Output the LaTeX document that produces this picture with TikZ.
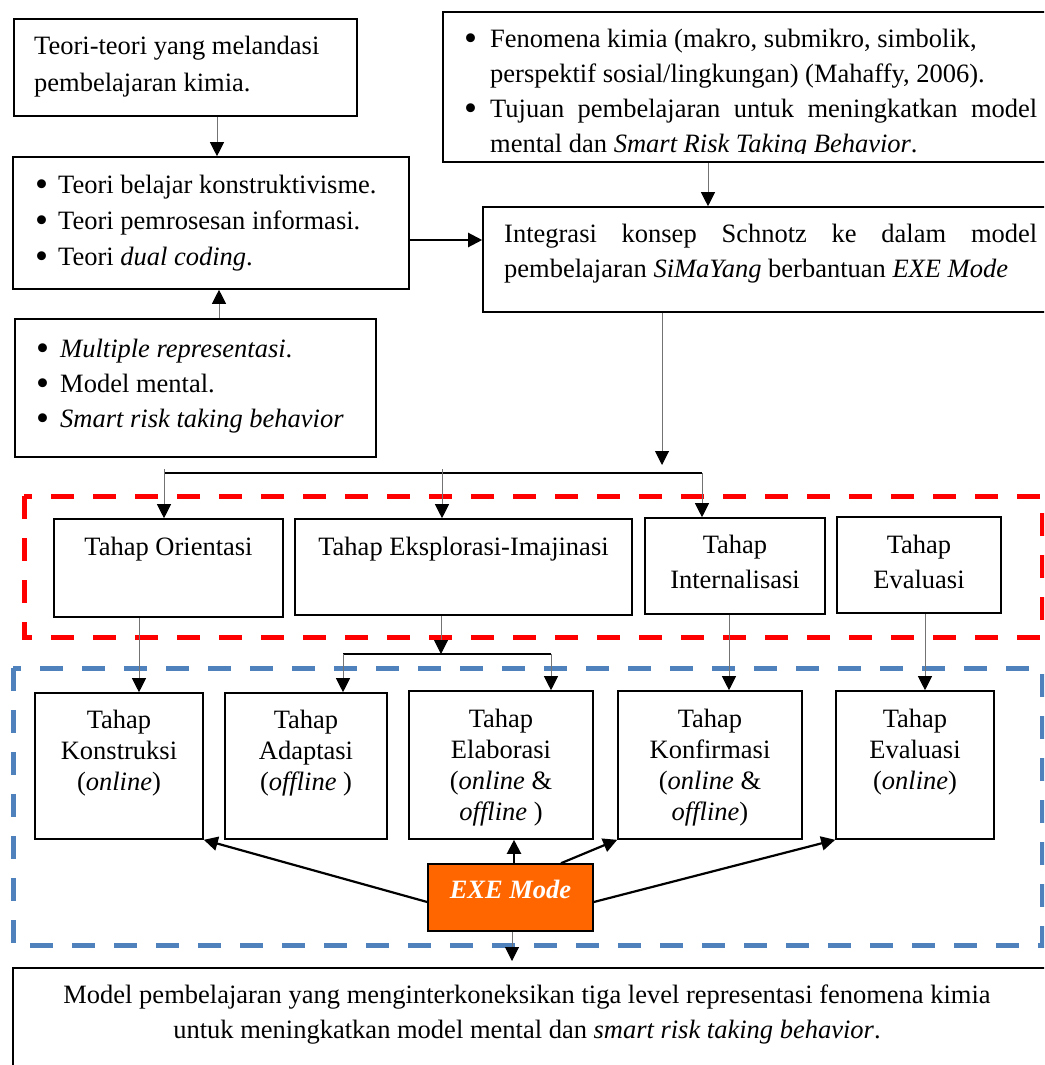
\documentclass[tikz,border=0pt]{standalone}
\usepackage{fontspec}
\usepackage{graphicx}
\setmainfont{Liberation Serif}
\usetikzlibrary{arrows.meta}
\definecolor{dashred}{HTML}{FF0000}
\definecolor{dashblue}{HTML}{4F81BD}
\definecolor{exeorange}{HTML}{FF6600}
\newcommand\txtsize[1]{\fontsize{26.5}{#1}\selectfont}
\newcommand\firststrut{\rule{0pt}{24pt}}
\newcommand\bul[1]{\makebox[#1pt][l]{\raisebox{-0.13em}{\scalebox{1.4}{\textbullet}}}}
\begin{document}
\begin{tikzpicture}[x=1pt,y=-1pt,
  box/.style={draw=black,line width=1.6pt,inner sep=0pt,rectangle},
  txt/.style={inner sep=0pt,anchor=north west,align=left},
  ctxt/.style={inner sep=0pt,anchor=north,align=center},
  tip/.style={-{Triangle[length=14pt,width=14pt,color=black]}},
  thinarrow/.style={tip,draw=black!55,line width=1pt},
  thickarrow/.style={tip,draw=black,line width=2.2pt},
  thickline/.style={draw=black,line width=2.6pt},
  frame/.style={line width=5pt,dash pattern=on 23pt off 19pt}]
\useasboundingbox (0,0) rectangle (1044,1065);
\clip (0,0) rectangle (1044,1065);

% ---- upper boxes
\node[box,minimum width=343pt,minimum height=97pt]  (b1)     at (185.5,67.5) {};
\node[box,minimum width=396pt,minimum height=132pt] (b2)     at (211,223) {};
\node[box,minimum width=361pt,minimum height=138pt] (b3)     at (195.5,388) {};
\node[box,minimum width=617pt,minimum height=150pt] (fen)    at (751.5,87) {};
\node[box,minimum width=577pt,minimum height=105pt] (integ)  at (771.5,259.5) {};

\node[txt,font=\txtsize{37}] (t1) at (34,30)
  {\firststrut Teori-teori yang melandasi\\pembelajaran kimia.};
\node[txt,font=\txtsize{36}] (t2) at (35,169)
  {\firststrut\bul{23}Teori belajar konstruktivisme.\\\bul{23}Teori pemrosesan informasi.\\\bul{23}Teori \textit{dual coding}.};
\node[txt,font=\txtsize{35}] (t3) at (36,333)
  {\firststrut\bul{24}\textit{Multiple representasi}.\\\bul{24}Model mental.\\\bul{24}\textit{Smart risk taking behavior}};
\begin{scope}
  \clip (443,0) rectangle (1044,153);
  \node[txt,font=\txtsize{35}] (tfen) at (464,23)
    {\firststrut\bul{26}Fenomena kimia (makro, submikro, simbolik,\\
     \hspace*{26pt}perspektif sosial/lingkungan) (Mahaffy, 2006).\\
     \bul{26}\makebox[547pt][s]{Tujuan pembelajaran untuk meningkatkan model}\\
     \hspace*{26pt}mental dan \textit{Smart Risk Taking Behavior}.};
\end{scope}
\node[txt,font=\txtsize{35}] (tinteg) at (504,218)
  {\firststrut\makebox[533pt][s]{Integrasi konsep Schnotz ke dalam model}\\
   pembelajaran \textit{SiMaYang} berbantuan \textit{EXE Mode}};

% ---- dashed groups
\draw[frame,draw=dashred]  (24,496) rectangle (1042,637);
\draw[frame,draw=dashblue] (13,668) rectangle (1042,945);

% ---- stage boxes (upper row)
\node[box,minimum width=229pt,minimum height=98pt] (orient) at (168.5,568) {};
\node[box,minimum width=337pt,minimum height=96pt] (eksp)   at (463.5,567) {};
\node[box,minimum width=180pt,minimum height=96pt] (intern) at (735,566) {};
\node[box,minimum width=164pt,minimum height=96pt] (eval1)  at (919,565) {};

\node[ctxt,font=\txtsize{35}] (torient) at (168.5,531) {\firststrut Tahap Orientasi};
\node[ctxt,font=\txtsize{35}] (teksp)   at (463.5,531) {\firststrut Tahap Eksplorasi-Imajinasi};
\node[ctxt,font=\txtsize{35}] (tintern) at (735,529)   {\firststrut Tahap\\Internalisasi};
\node[ctxt,font=\txtsize{35}] (teval1)  at (919,529)   {\firststrut Tahap\\Evaluasi};

% ---- stage boxes (lower row)
\node[box,minimum width=168pt,minimum height=146pt] (konst) at (119,766) {};
\node[box,minimum width=162pt,minimum height=146pt] (adapt) at (306,766) {};
\node[box,minimum width=184pt,minimum height=148pt] (elab)  at (501,765) {};
\node[box,minimum width=184pt,minimum height=148pt] (konf)  at (710,765) {};
\node[box,minimum width=158pt,minimum height=148pt] (eval2) at (915,765) {};

\node[ctxt,font=\txtsize{31}] (tkonst) at (119,704) {\firststrut Tahap\\Konstruksi\\(\textit{online})};
\node[ctxt,font=\txtsize{31}] (tadapt) at (306,704) {\firststrut Tahap\\Adaptasi\\(\textit{offline} )};
\node[ctxt,font=\txtsize{31}] (telab)  at (501,703) {\firststrut Tahap\\Elaborasi\\(\textit{online} \&\\\textit{offline} )};
\node[ctxt,font=\txtsize{31}] (tkonf)  at (710,703) {\firststrut Tahap\\Konfirmasi\\(\textit{online} \&\\\textit{offline})};
\node[ctxt,font=\txtsize{31}] (teval2) at (915,703) {\firststrut Tahap\\Evaluasi\\(\textit{online})};

% ---- EXE Mode and outcome
\node[box,fill=exeorange,minimum width=165pt,minimum height=67pt] (exe) at (510.5,897.5) {};
\node[inner sep=0pt,anchor=base,text=white,font=\txtsize{31}] (texe) at (510.5,898) {\textbf{\textit{EXE Mode}}};
\node[box,minimum width=1047pt,minimum height=112pt] (final) at (536.5,1024) {};
\node[ctxt,font=\txtsize{35}] (tfinal) at (527,979)
  {\firststrut Model pembelajaran yang menginterkoneksikan tiga level representasi fenomena kimia\\
   untuk meningkatkan model mental dan \textit{smart risk taking behavior}.};

% ---- junction points
\coordinate (j1)  at (662,465);
\coordinate (h1l) at (164,473);
\coordinate (h1m) at (442,473);
\coordinate (h1r) at (702,473);
\coordinate (h2l) at (343,654);
\coordinate (h2m) at (441,654);
\coordinate (h2r) at (551,654);
\coordinate (j2)  at (512,961);

% ---- connectors
\draw[thinarrow]  (217,0 |- b1.south) -- (217,0 |- b2.north);
\draw[thinarrow]  (219,0 |- b3.north) -- (219,0 |- b2.south);
\draw[thickarrow] (b2.east |- 0,240) -- (integ.west |- 0,240);
\draw[thinarrow]  (708,0 |- fen.south) -- (708,0 |- integ.north);
\draw[thinarrow]  (662,0 |- integ.south) -- (j1);
\draw[thickline]  (h1l) -- (h1r);
\draw[thinarrow]  ([yshift=4pt]h1l) -- (h1l |- orient.north);
\draw[thinarrow]  ([yshift=4pt]h1m) -- (h1m |- eksp.north);
\draw[thinarrow]  (h1r) -- (h1r |- intern.north);

\draw[thinarrow]  (139,0 |- orient.south) -- (139,0 |- konst.north);
\draw[thinarrow]  (h2m |- eksp.south) -- (h2m);
\draw[thickline]  (h2l) -- (h2r);
\draw[thinarrow]  (h2l) -- (h2l |- adapt.north);
\draw[thinarrow]  (h2r) -- (h2r |- elab.north);
\draw[thinarrow]  (729,0 |- intern.south) -- (729,0 |- konf.north);
\draw[thinarrow]  (925,0 |- eval1.south) -- (925,0 |- eval2.north);

\draw[thickarrow] (exe.west |- 0,902) -- (konst.south east);
\draw[thickarrow] (514,0 |- exe.north) -- (514,0 |- elab.south);
\draw[thickarrow] (561,0 |- exe.north) -- (konf.south west);
\draw[thickarrow] (exe.east |- 0,902) -- (eval2.south west);
\draw[thinarrow]  (512,0 |- exe.south) -- (j2);
\end{tikzpicture}
\end{document}
